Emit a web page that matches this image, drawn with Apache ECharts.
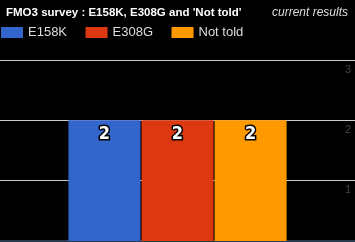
<!DOCTYPE html>
<html><head><meta charset="utf-8">
<script src="https://cdn.jsdelivr.net/npm/echarts@6/dist/echarts.min.js"></script>
<style>html,body{margin:0;padding:0;background:#000}#c{width:355px;height:242px}</style>
</head><body><div id="c"></div>
<script>
const title = "FMO3 survey : E158K, E308G and 'Not told'";
const subtitle = "current results";
const categories = ["FMO3"];
const seriesNames = ["E158K", "E308G", "Not told"];
const seriesValues = [[2], [2], [2]];
const seriesColors = ["#3366CC", "#DC3912", "#FF9900"];
const yTicks = [0, 1, 2, 3];

const chart = echarts.init(document.getElementById('c'), null, {renderer: 'canvas'});
chart.setOption({
  backgroundColor: '#000',
  animation: false,
  title: [
    {text: title, left: 6, top: 7, padding: 0, textStyle: {color: '#fff', fontSize: 11.5, fontWeight: 'bold', fontFamily: 'Liberation Sans'}},
    {text: subtitle, right: 7, top: 7, padding: 0, textStyle: {color: '#ddd', fontSize: 12, fontWeight: 'normal', fontStyle: 'italic', fontFamily: 'Liberation Sans'}}
  ],
  legend: {
    left: 1, top: 26, padding: 0, icon: 'rect', itemWidth: 22, itemHeight: 11, itemGap: 18.5,
    textStyle: {color: '#ddd', fontSize: 13, fontFamily: 'Liberation Sans'},
    data: seriesNames
  },
  grid: {left: 0, right: 0, top: 60, bottom: 1, containLabel: false},
  xAxis: {
    type: 'category', data: categories,
    axisLine: {show: true, lineStyle: {color: '#2b3a4a', width: 2}},
    axisTick: {show: false}, axisLabel: {show: false}
  },
  yAxis: {
    type: 'value', position: 'right', min: yTicks[0], max: yTicks[yTicks.length - 1], interval: 1,
    axisLine: {show: false}, axisTick: {show: false},
    splitLine: {show: true, lineStyle: {color: '#ccc', width: 1}},
    axisLabel: {inside: true, margin: 4, color: '#444', fontSize: 11, fontFamily: 'Liberation Sans',
      verticalAlign: 'top', padding: [4, 0, 0, 0], showMinLabel: false}
  },
  series: seriesNames.map((n, i) => ({
    name: n, type: 'bar', data: seriesValues[i],
    barWidth: 72, barGap: '1.5%',
    itemStyle: {color: seriesColors[i]},
    label: {show: true, position: 'insideTop', distance: 5, color: '#fff', fontSize: 18, fontWeight: 'bold',
      fontFamily: 'DejaVu Sans Condensed', textBorderColor: '#000', textBorderWidth: 3}
  }))
});
</script></body></html>
